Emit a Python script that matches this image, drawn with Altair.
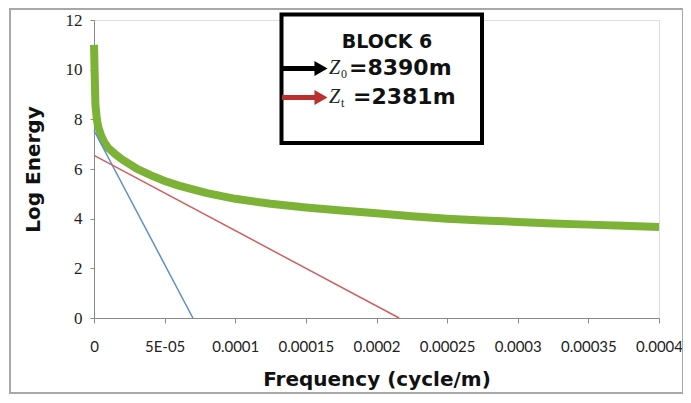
import altair as alt
import pandas as pd

# ---- data ----
green_freq = [0, 1e-6, 2e-6, 3e-6, 5e-6, 7.5e-6, 1e-5, 1.5e-5, 2e-5, 3e-5, 4e-5, 5e-5,
              6e-5, 8e-5, 1e-4, 1.25e-4, 1.5e-4, 1.75e-4, 2e-4, 2.25e-4, 2.5e-4,
              2.75e-4, 3e-4, 3.25e-4, 3.5e-4, 3.75e-4, 4e-4]
green_energy = [11.0, 8.6, 8.0, 7.7, 7.35, 7.05, 6.85, 6.6, 6.38, 6.02, 5.75, 5.52,
                5.33, 5.03, 4.8, 4.6, 4.45, 4.33, 4.22, 4.1, 4.0,
                3.93, 3.87, 3.81, 3.76, 3.71, 3.66]
blue_freq = [0, 7.0e-5]
blue_energy = [7.55, 0]
red_freq = [0, 2.16e-4]
red_energy = [6.55, 0]

x_tick_values = [0, 5e-5, 1e-4, 1.5e-4, 2e-4, 2.5e-4, 3e-4, 3.5e-4, 4e-4]
x_tick_labels = ["0", "5E-05", "0.0001", "0.00015", "0.0002", "0.00025", "0.0003", "0.00035", "0.0004"]
y_tick_values = [0, 2, 4, 6, 8, 10, 12]

legend_title = "BLOCK 6"
legend_rows = [("0", "=8390m"), ("t", "=2381m")]

W, H = 565, 298

df_green = pd.DataFrame({"f": green_freq, "e": green_energy})
df_blue = pd.DataFrame({"f": blue_freq, "e": blue_energy})
df_red = pd.DataFrame({"f": red_freq, "e": red_energy})

# label expression
expr = "''"
for v, l in reversed(list(zip(x_tick_values, x_tick_labels))):
    expr = f"(round(datum.value*1e7)=={round(v*1e7)} ? '{l}' : {expr})"

SANS = "Lato"
xscale = alt.Scale(domain=[0, 0.0004], nice=False, zero=False)
yscale = alt.Scale(domain=[0, 12], nice=False)

xax = alt.Axis(values=x_tick_values, labelExpr=expr, grid=False, domainColor="#8a8a8a",
               tickColor="#8a8a8a", tickSize=5, labelFont=SANS, labelFontSize=15,
               labelColor="#222222", labelPadding=16, labelFlush=False, labelOverlap=False,
               title="Frequency (cycle/m)", titleFont="DejaVu Sans", titleFontSize=20,
               titleFontWeight="bold", titleColor="#111111", titlePadding=15)
yax = alt.Axis(values=y_tick_values, grid=False, domainColor="#8a8a8a", tickColor="#8a8a8a",
               tickSize=4, labelFont="Liberation Serif", labelFontSize=17, labelColor="#222222",
               labelPadding=8, title="Log Energy", titleFont="DejaVu Sans", titleFontSize=20,
               titleFontWeight="bold", titleColor="#111111", titlePadding=22)

green = alt.Chart(df_green).mark_line(color="#7CB236", strokeWidth=8, strokeCap="butt").encode(
    x=alt.X("f:Q", scale=xscale, axis=xax),
    y=alt.Y("e:Q", scale=yscale, axis=yax),
)
blue = alt.Chart(df_blue).mark_line(color="#5B8FCB", strokeWidth=1.5).encode(
    x=alt.X("f:Q", scale=xscale), y=alt.Y("e:Q", scale=yscale))
red = alt.Chart(df_red).mark_line(color="#D0605E", strokeWidth=1.5).encode(
    x=alt.X("f:Q", scale=xscale), y=alt.Y("e:Q", scale=yscale))

one = pd.DataFrame({"a": [0]})
base = alt.Chart(one)

# outer frame
frame = base.mark_rect(fill=None, stroke="#a8a8a8", strokeWidth=2).encode(
    x=alt.value(-84), x2=alt.value(589), y=alt.value(-11), y2=alt.value(373))

# legend box
box = base.mark_rect(fill="white", stroke="black", strokeWidth=4).encode(
    x=alt.value(187.5), x2=alt.value(388), y=alt.value(-5.5), y2=alt.value(123))
title_t = base.mark_text(text=legend_title, font="DejaVu Sans", fontWeight="bold", fontSize=19,
                         align="center", baseline="middle", color="#111111").encode(
    x=alt.value(293), y=alt.value(22))

layers = [frame, green, blue, red, box, title_t]
row_y = [48, 77]
arrow_col = ["#000000", "#B8312F"]
val_x = [255, 259]
for (sub, val), yy, col, vx in zip(legend_rows, row_y, arrow_col, val_x):
    layers.append(base.mark_rect(color=col, opacity=1).encode(
        x=alt.value(188), x2=alt.value(224), y=alt.value(yy - 2), y2=alt.value(yy + 3)))
    layers.append(base.mark_point(shape="triangle-right", filled=True, color=col, size=230, opacity=1).encode(
        x=alt.value(227), y=alt.value(yy + 0.5)))
    layers.append(base.mark_text(text="Z", font="Liberation Serif", fontStyle="italic", fontSize=20,
                                 align="left", baseline="middle", color="#222222").encode(
        x=alt.value(235), y=alt.value(yy)))
    layers.append(base.mark_text(text=sub, font="Liberation Serif", fontSize=12,
                                 align="left", baseline="middle", color="#222222").encode(
        x=alt.value(247), y=alt.value(yy + 6)))
    layers.append(base.mark_text(text=val, font="DejaVu Sans", fontWeight="bold", fontSize=22,
                                 align="left", baseline="middle", color="#111111").encode(
        x=alt.value(vx), y=alt.value(yy)))

chart = alt.layer(*layers).properties(
    width=W, height=H,
    autosize=alt.AutoSizeParams(type="none"),
    padding={"left": 86, "top": 12, "right": 24, "bottom": 77},
).configure_view(stroke=None).configure(background="white")

chart.save("out.html", embed_options={"renderer": "svg", "actions": False})
